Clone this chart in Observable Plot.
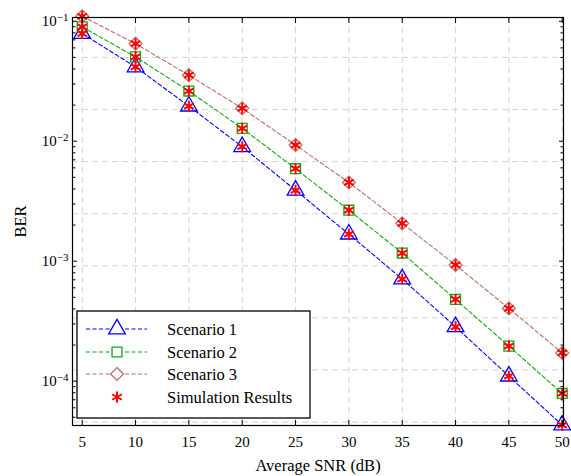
<!DOCTYPE html>
<html>
<head>
<meta charset="utf-8">
<script src="https://cdn.jsdelivr.net/npm/d3@7"></script>
<script src="https://cdn.jsdelivr.net/npm/@observablehq/plot@0.6"></script>
<style>
  html, body { margin: 0; padding: 0; background: white; }
  svg { display: block; }
  svg text, svg tspan { font-family: "Liberation Serif", "DejaVu Serif", "Times New Roman", serif !important; }
</style>
</head>
<body>
<div id="chart"></div>
<script>
const snr = [5, 10, 15, 20, 25, 30, 35, 40, 45, 50];
const scenario1 = [0.079, 0.0416, 0.0196, 0.009, 0.0039, 0.00168, 0.00071, 0.000284, 0.00011, 0.000043];
const scenario2 = [0.0897, 0.0505, 0.0262, 0.0128, 0.0059, 0.00266, 0.00117, 0.00048, 0.000196, 0.000079];
const scenario3 = [0.110, 0.065, 0.0355, 0.0188, 0.0093, 0.00453, 0.00207, 0.00093, 0.000404, 0.000172];
const seriesNames = ["Scenario 1", "Scenario 2", "Scenario 3", "Simulation Results"];
const xTicks = [5, 10, 15, 20, 25, 30, 35, 40, 45, 50];
const yMajor = [1e-4, 1e-3, 1e-2, 1e-1];
const yMinor = [5e-5, 6e-5, 7e-5, 8e-5, 9e-5,
  2e-4, 3e-4, 4e-4, 5e-4, 6e-4, 7e-4, 8e-4, 9e-4,
  2e-3, 3e-3, 4e-3, 5e-3, 6e-3, 7e-3, 8e-3, 9e-3,
  2e-2, 3e-2, 4e-2, 5e-2, 6e-2, 7e-2, 8e-2, 9e-2];
const yGrid = [5e-2, 1.84e-2, 6.77e-3, 2.49e-3, 9.16e-4, 3.37e-4, 1.24e-4, 4.56e-5];

const colors = ["#0000ff", "#12a812", "#b5706a", "#ff0000"];
const symbols = ["triangle", "square", "diamond2"];
const radii = [6.2, 5.6, 5.8];

const rows = (vals, name) => snr.map((x, i) => ({x, y: vals[i], series: name}));
const s1 = rows(scenario1, seriesNames[0]);
const s2 = rows(scenario2, seriesNames[1]);
const s3 = rows(scenario3, seriesNames[2]);
const sets = [s1, s2, s3];
const sim = [...s1, ...s2, ...s3];

const gridStyle = {stroke: "#d4d4d4", strokeOpacity: 1, strokeDasharray: "6,4", strokeWidth: 1};

const marks = [
  Plot.gridX(xTicks, gridStyle),
  Plot.gridY(yGrid, gridStyle),
];
sets.forEach((d, i) => marks.push(Plot.line(d, {x: "x", y: "y", stroke: colors[i], strokeWidth: 1.1, strokeDasharray: "4,2.5"})));
sets.forEach((d, i) => marks.push(Plot.dot(d, {x: "x", y: "y", symbol: symbols[i], r: radii[i], stroke: colors[i], fill: "none", strokeWidth: 1.3})));
marks.push(Plot.dot(sim, {x: "x", y: "y", symbol: "asterisk", r: 5.2, stroke: colors[3], strokeWidth: 2}));
marks.push(
  Plot.axisX({ticks: xTicks, tickSize: 0, tickPadding: 11, label: "Average SNR (dB)", labelAnchor: "center", labelArrow: "none", labelOffset: 45}),
  Plot.axisX({anchor: "bottom", ticks: xTicks, tickSize: -5, text: null, label: null}),
  Plot.axisX({anchor: "top", ticks: xTicks, tickSize: -5, text: null, label: null}),
  Plot.axisY({ticks: yMajor, tickSize: 0, tickPadding: 4, tickFormat: d => "10^" + Math.round(Math.log10(d)), label: "BER", labelAnchor: "center", labelArrow: "none", labelOffset: 58}),
  Plot.axisY({anchor: "left", ticks: yMajor, tickSize: -5, text: null, label: null}),
  Plot.axisY({anchor: "left", ticks: yMinor, tickSize: -3.5, text: null, label: null}),
  Plot.axisY({anchor: "right", ticks: yMajor, tickSize: -5, text: null, label: null}),
  Plot.axisY({anchor: "right", ticks: yMinor, tickSize: -3.5, text: null, label: null}),
  Plot.frame({stroke: "black", strokeWidth: 1.2})
);

const plot = Plot.plot({
  width: 571,
  height: 476,
  marginLeft: 72,
  marginRight: 8,
  marginTop: 17,
  marginBottom: 51,
  style: {fontFamily: "Liberation Serif, DejaVu Serif, serif", fontSize: "15px", background: "white", color: "black"},
  x: {domain: [4.09, 50.12]},
  y: {type: "log", domain: [4.27e-5, 0.1075]},
  marks
});

// superscripts for y tick labels; larger axis titles
d3.select(plot).selectAll("text").each(function() {
  const t = this.textContent;
  const m = /^10\^(-?\d+)$/.exec(t);
  if (m) {
    const sel = d3.select(this);
    sel.text("10");
    sel.append("tspan").attr("dy", "-0.45em").attr("font-size", "11px").text(m[1].replace("-", "\u2212"));
  } else if (t === "Average SNR (dB)" || t === "BER") {
    d3.select(this).attr("font-size", "16.5px");
  }
});

// legend
const svg = d3.select(plot);
const lg = svg.append("g");
lg.append("rect").attr("x", 77).attr("y", 311).attr("width", 233).attr("height", 107)
  .attr("fill", "white").attr("stroke", "black").attr("stroke-width", 1.3);
const rowY = [329, 352, 374, 397];
const d3sym = {triangle: d3.symbolTriangle, square: d3.symbolSquare, diamond2: d3.symbolDiamond2};
seriesNames.forEach((name, i) => {
  const y = rowY[i];
  if (i < 3) {
    lg.append("line").attr("x1", 86).attr("x2", 147).attr("y1", y).attr("y2", y)
      .attr("stroke", colors[i]).attr("stroke-width", 1.1).attr("stroke-dasharray", "4,2.5");
    lg.append("path").attr("transform", `translate(117,${y})`)
      .attr("d", d3.symbol(d3sym[symbols[i]], radii[i] * radii[i] * Math.PI)())
      .attr("fill", "white").attr("stroke", colors[i]).attr("stroke-width", 1.3);
  } else {
    lg.append("path").attr("transform", `translate(117,${y})`)
      .attr("d", d3.symbol(d3.symbolAsterisk, 5.2 * 5.2 * Math.PI)())
      .attr("fill", "none").attr("stroke", colors[3]).attr("stroke-width", 2);
  }
  lg.append("text").attr("x", 167).attr("y", y).attr("dy", "0.35em").attr("text-anchor", "start")
    .attr("font-size", "16.5px").attr("fill", "black").text(name);
});

document.getElementById("chart").appendChild(plot);
</script>
</body>
</html>
